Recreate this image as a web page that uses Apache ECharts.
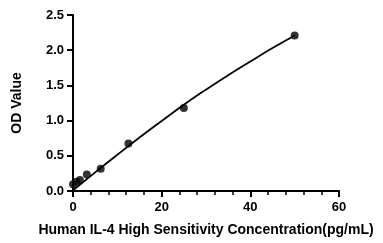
<!DOCTYPE html>
<html>
<head>
<meta charset="utf-8">
<script src="https://cdn.jsdelivr.net/npm/echarts@6/dist/echarts.min.js"></script>
<style>
  html, body { margin: 0; padding: 0; background: #fff; }
  #chart { width: 383px; height: 243px; }
</style>
</head>
<body>
<div id="chart"></div>
<script>
// standards (pg/mL) and measured OD
var conc = [0, 0.78, 1.56, 3.125, 6.25, 12.5, 25, 50];
var od = [0.095, 0.13, 0.156, 0.235, 0.315, 0.675, 1.18, 2.21];

// fitted curve
var curveX = [0, 5, 10, 15, 20, 25, 30, 35, 40, 45, 50];
var curveY = [0.01, 0.265, 0.515, 0.76, 0.995, 1.225, 1.44, 1.645, 1.84, 2.03, 2.21];

var xTicks = [0, 20, 40, 60];
var yTicks = [0, 0.5, 1.0, 1.5, 2.0, 2.5];

var pts = [];
for (var i = 0; i < conc.length; i++) pts.push([conc[i], od[i]]);
var fit = [];
for (var j = 0; j < curveX.length; j++) fit.push([curveX[j], curveY[j]]);

var myChart = echarts.init(document.getElementById('chart'));
var font = 'Liberation Sans, Arial, sans-serif';
option = {
  animation: false,
  grid: { left: 73, right: 44, top: 15, bottom: 52 },
  xAxis: {
    type: 'value',
    min: xTicks[0],
    max: xTicks[xTicks.length - 1],
    interval: 20,
    name: 'Human IL-4 High Sensitivity Concentration(pg/mL)',
    nameLocation: 'middle',
    nameGap: 32,
    nameTextStyle: { color: '#000', fontWeight: 'bold', fontSize: 14, fontFamily: font },
    axisLine: { show: true, lineStyle: { color: '#000', width: 2 } },
    axisTick: { show: true, length: 6, lineStyle: { color: '#000', width: 2 } },
    minorTick: { show: true, splitNumber: 5, length: 4, lineStyle: { color: '#000', width: 1.5 } },
    splitLine: { show: true, lineStyle: { color: 'rgba(0,0,0,0)' } },
    axisLabel: { color: '#000', fontWeight: 'bold', fontSize: 13, fontFamily: font, margin: 10 }
  },
  yAxis: {
    type: 'value',
    min: yTicks[0],
    max: yTicks[yTicks.length - 1],
    interval: 0.5,
    name: 'OD Value',
    nameLocation: 'middle',
    nameGap: 49,
    nameTextStyle: { color: '#000', fontWeight: 'bold', fontSize: 14, fontFamily: font },
    axisLine: { show: true, lineStyle: { color: '#000', width: 2 } },
    axisTick: { show: true, length: 6, lineStyle: { color: '#000', width: 2 } },
    splitLine: { show: true, lineStyle: { color: 'rgba(0,0,0,0)' } },
    axisLabel: {
      color: '#000', fontWeight: 'bold', fontSize: 13, fontFamily: font, margin: 9,
      formatter: function (v) { return v.toFixed(1); }
    }
  },
  series: [
    {
      type: 'line',
      data: fit,
      smooth: true,
      showSymbol: false,
      lineStyle: { color: '#000', width: 1.8 },
      z: 2
    },
    {
      type: 'scatter',
      data: pts,
      symbolSize: 8,
      itemStyle: { color: '#000' },
      z: 3
    }
  ]
};
myChart.setOption(option);
</script>
</body>
</html>
